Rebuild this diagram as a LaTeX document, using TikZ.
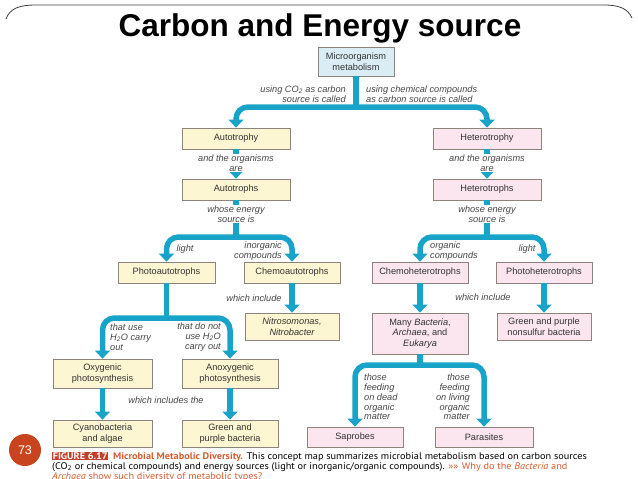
\documentclass[tikz,border=0pt]{standalone}
\usepackage{fontspec}
\setmainfont{Liberation Sans}
\newfontfamily\capfont[FakeStretch=1.07]{PT Sans}
\usetikzlibrary{arrows.meta}
\definecolor{flowblue}{RGB}{24,164,201}
\definecolor{autofill}{RGB}{253,246,210}
\definecolor{heterofill}{RGB}{251,230,239}
\definecolor{metafill}{RGB}{218,237,245}
\definecolor{boxedge}{RGB}{140,132,124}
\definecolor{figred}{RGB}{196,62,42}
\definecolor{figorange}{RGB}{214,92,48}
\definecolor{slidered}{RGB}{200,68,30}
\definecolor{framegray}{RGB}{60,60,60}
\definecolor{labelgray}{RGB}{70,70,70}

\tikzset{
  conceptbox/.style={draw=boxedge, line width=0.8pt, inner sep=1pt, align=center,
    text=black!80, font=\fontsize{9.2}{10.5}\selectfont},
  autobox/.style={conceptbox, fill=autofill},
  heterobox/.style={conceptbox, fill=heterofill},
  flow/.style={draw=flowblue, line width=5.5pt, rounded corners=12pt},
  flowarrow/.style={flow, -{Triangle[width=15pt,length=8pt]}},
  flowsplit/.style={flow, {Triangle[width=15pt,length=8pt]}-{Triangle[width=15pt,length=8pt]}},
  linklabel/.style={font=\itshape\fontsize{9.2}{9.8}\selectfont, text=labelgray, inner sep=1pt},
}

\begin{document}
\begin{tikzpicture}[x=1pt, y=-1pt]
  \useasboundingbox (0,0) rectangle (638,479);

  % Slide frame and title
  \draw[framegray, line width=0.8pt] (6,19) .. controls (10,8) and (20,5) .. (36,5)
    -- (604,5) .. controls (620,5) and (628,9) .. (632,18);
  \node[font=\bfseries\fontsize{31.5}{34}\selectfont, anchor=base] (title) at (320,36) {Carbon and Energy source};

  % Root of the map
  \node[conceptbox, fill=metafill, minimum width=76pt, minimum height=29pt] (micro) at (356,61.5) {Microorganism\\metabolism};

  % Carbon source: autotrophs on the left, heterotrophs on the right
  \node[autobox, minimum width=108pt, minimum height=21pt] (autotrophy) at (236,138.5) {Autotrophy};
  \node[heterobox, minimum width=108pt, minimum height=21pt] (heterotrophy) at (487,138.5) {Heterotrophy};
  \node[autobox, minimum width=108pt, minimum height=21pt] (autotrophs) at (236,189.5) {Autotrophs};
  \node[heterobox, minimum width=108pt, minimum height=21pt] (heterotrophs) at (487,189.5) {Heterotrophs};

  % Energy source
  \node[autobox, minimum width=97pt, minimum height=21pt] (photoauto) at (166.5,272.5) {Photoautotrophs};
  \node[autobox, minimum width=96pt, minimum height=21pt] (chemoauto) at (292,272.5) {Chemoautotrophs};
  \node[heterobox, minimum width=96pt, minimum height=21pt] (chemohetero) at (420,272.5) {Chemoheterotrophs};
  \node[heterobox, minimum width=96pt, minimum height=21pt] (photohetero) at (544,272.5) {Photoheterotrophs};

  % Examples of each group
  \node[autobox, minimum width=94pt, minimum height=27pt, font=\itshape\fontsize{9.2}{10.5}\selectfont] (nitro) at (292,326.5) {Nitrosomonas,\\Nitrobacter};
  \node[heterobox, minimum width=96pt, minimum height=41pt] (manybact) at (420,333.5) {Many \textit{Bacteria},\\\textit{Archaea}, and\\\textit{Eukarya}};
  \node[heterobox, minimum width=94pt, minimum height=27pt] (nonsulfur) at (544,326.5) {Green and purple\\nonsulfur bacteria};
  \node[autobox, minimum width=99pt, minimum height=29pt] (oxygenic) at (102.5,373.5) {Oxygenic\\photosynthesis};
  \node[autobox, minimum width=96pt, minimum height=29pt] (anoxygenic) at (230,373.5) {Anoxygenic\\photosynthesis};
  \node[autobox, minimum width=99pt, minimum height=27pt] (cyano) at (102.5,433.5) {Cyanobacteria\\and algae};
  \node[autobox, minimum width=96pt, minimum height=27pt] (greenpurple) at (230,433.5) {Green and\\purple bacteria};
  \node[heterobox, minimum width=96pt, minimum height=20pt] (saprobes) at (355,437) {Saprobes};
  \node[heterobox, minimum width=98pt, minimum height=20pt] (parasites) at (484,437) {Parasites};

  % Split points of the thick connectors
  \coordinate (split1) at (0,107);
  \coordinate (split2) at (0,237);
  \coordinate (split3) at (0,318);
  \coordinate (split4) at (0,365);

  % Connectors
  \draw[flow] (micro.south) -- (micro.south |- split1);
  \draw[flowsplit] (autotrophy.north) |- (micro.south |- split1) -| (heterotrophy.north);
  \draw[flowarrow] (autotrophy.south) -- (autotrophs.north);
  \draw[flowarrow] (heterotrophy.south) -- (heterotrophs.north);
  \draw[flow] (autotrophs.south) -- (autotrophs.south |- split2);
  \draw[flowsplit] (photoauto.north) |- (autotrophs.south |- split2) -| (chemoauto.north);
  \draw[flow] (heterotrophs.south) -- (heterotrophs.south |- split2);
  \draw[flowsplit] (chemohetero.north) |- (heterotrophs.south |- split2) -| (photohetero.north);
  \draw[flowarrow] (chemoauto.south) -- (nitro.north);
  \draw[flowarrow] (chemohetero.south) -- (manybact.north);
  \draw[flowarrow] (photohetero.south) -- (nonsulfur.north);
  \draw[flow] (photoauto.south) -- (photoauto.south |- split3);
  \draw[flowsplit] (oxygenic.north) |- (photoauto.south |- split3) -| (anoxygenic.north);
  \draw[flowarrow] (oxygenic.south) -- (cyano.north);
  \draw[flowarrow] (anoxygenic.south) -- (greenpurple.north);
  \draw[flow] (manybact.south) -- (manybact.south |- split4);
  \draw[flowsplit] (saprobes.north) |- (manybact.south |- split4) -| (parasites.north);

  % Link labels
  \node[linklabel, anchor=east, align=right] (co2lbl) at (347,94) {using CO\textsubscript{2} as carbon\\source is called};
  \node[linklabel, anchor=west, align=left] (chemlbl) at (365,94) {using chemical compounds\\as carbon source is called};
  \node[linklabel, fill=white, align=center] (arelbl1) at (236,163) {and the organisms\\are};
  \node[linklabel, fill=white, align=center] (arelbl2) at (487,163) {and the organisms\\are};
  \node[linklabel, fill=white, align=center] (energylbl1) at (236,214) {whose energy\\source is};
  \node[linklabel, fill=white, align=center] (energylbl2) at (487,214) {whose energy\\source is};
  \node[linklabel] (lightlbl1) at (185,249) {light};
  \node[linklabel, anchor=east, align=right] (inorglbl) at (283,251) {inorganic\\compounds};
  \node[linklabel, anchor=west, align=left] (orglbl) at (429,251) {organic\\compounds};
  \node[linklabel] (lightlbl2) at (527,249) {light};
  \node[linklabel] (includelbl1) at (254,298) {which include};
  \node[linklabel] (includelbl2) at (483,297) {which include};
  \node[linklabel, anchor=west, align=left] (waterlbl) at (109,337) {that use\\H\textsubscript{2}O carry\\out};
  \node[linklabel, anchor=east, align=right] (nowaterlbl) at (222,337) {that do not\\use H\textsubscript{2}O\\carry out};
  \node[linklabel] (includeslbl) at (166,400) {which includes the};
  \node[linklabel, anchor=west, align=left] (deadlbl) at (363,397) {those\\feeding\\on dead\\organic\\matter};
  \node[linklabel, anchor=east, align=right] (livinglbl) at (471,397) {those\\feeding\\on living\\organic\\matter};

  % Slide number and figure caption
  \node[circle, fill=slidered, minimum size=32pt, inner sep=0pt, text=white, font=\fontsize{12.5}{12.5}\selectfont] (slidenum) at (25,450) {73};
  \node[anchor=north west, align=left, inner sep=0pt, font=\capfont\fontsize{9.6}{9.8}\selectfont] (caption) at (52,452)
    {{\setlength{\fboxsep}{0.6pt}\colorbox{figred}{\textcolor{white}{\bfseries FIGURE 6.17}}}\enspace{\bfseries\color{figorange}Microbial Metabolic Diversity.} This concept map summarizes microbial metabolism based on carbon sources\\
     (CO\textsubscript{2} or chemical compounds) and energy sources (light or inorganic/organic compounds). {\color{figorange}»» Why do the \textit{Bacteria} and}\\
     {\color{figorange}\textit{Archaea} show such diversity of metabolic types?}};
\end{tikzpicture}
\end{document}
